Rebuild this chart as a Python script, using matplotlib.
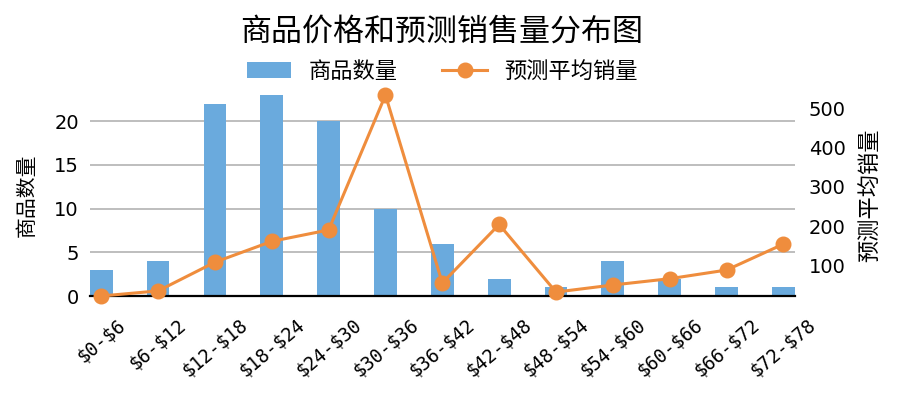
import numpy as np
import matplotlib
matplotlib.use("Agg")
import matplotlib.pyplot as plt

plt.rcParams['font.family'] = ['DejaVu Sans', 'Noto Sans CJK SC']
plt.rcParams['text.parse_math'] = False

# data
price_bins = ["$0-$6", "$6-$12", "$12-$18", "$18-$24", "$24-$30", "$30-$36", "$36-$42",
              "$42-$48", "$48-$54", "$54-$60", "$60-$66", "$66-$72", "$72-$78"]
item_counts = [3, 4, 22, 23, 20, 10, 6, 2, 1, 4, 2, 1, 1]
avg_sales = [22, 35, 108, 161, 190, 533, 55, 204, 32, 50, 66, 88, 154]

bar_color = '#6aaadd'
line_color = '#ef8d3d'

fig = plt.figure(figsize=(8.99, 3.97), dpi=100)
ax = fig.add_axes([0.100, 0.254, 0.784, 0.509])
x = np.arange(len(price_bins))

ax.bar(x, item_counts, width=0.4, color=bar_color, label='商品数量', zorder=2)
ax.set_xlim(-0.2, len(price_bins) - 0.8)
ax.set_ylim(0, 23.1)
ax.set_yticks([0, 5, 10, 15, 20])
ax.yaxis.grid(True, color='#b3b3b3', linewidth=1.2, zorder=0)
ax.set_axisbelow(True)
for s in ['top', 'right', 'left']:
    ax.spines[s].set_visible(False)
ax.spines['bottom'].set_linewidth(1.6)
ax.spines['bottom'].set_color('black')
ax.tick_params(axis='both', length=0, labelsize=14, pad=8)
ax.set_xticks(x)
ax.set_xticklabels(price_bins, rotation=40, ha='center', va='top',
                   family='DejaVu Sans Mono', fontsize=13.5)
ax.tick_params(axis='x', pad=14)
ax.set_ylabel('商品数量', fontsize=15, labelpad=12)

ax2 = ax.twinx()
ax2.plot(x, avg_sales, color=line_color, linewidth=2.2, marker='o', markersize=10.5,
         label='预测平均销量', zorder=3, clip_on=False)
ax2.set_ylim(21.6, 535.6)
ax2.set_yticks([100, 200, 300, 400, 500])
for s in ['top', 'right', 'left', 'bottom']:
    ax2.spines[s].set_visible(False)
ax2.tick_params(axis='y', length=0, labelsize=14, pad=10)
ax2.set_ylabel('预测平均销量', fontsize=16, labelpad=10)

fig.text(0.491, 0.918, '商品价格和预测销售量分布图', fontsize=22.3, ha='center', va='center')

h1, l1 = ax.get_legend_handles_labels()
h2, l2 = ax2.get_legend_handles_labels()
fig.legend(h1 + h2, l1 + l2, loc='center', bbox_to_anchor=(0.492, 0.821), ncol=2,
           frameon=False, fontsize=16, handlelength=2.0, handletextpad=0.8,
           columnspacing=2.0)

fig.savefig('out.png', dpi=100)
